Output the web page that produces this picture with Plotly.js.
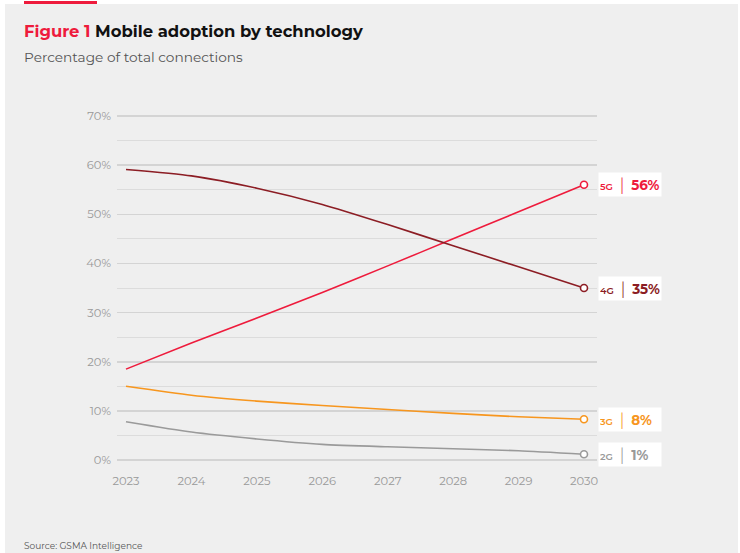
<!DOCTYPE html>
<html>
<head>
<meta charset="utf-8">
<script src="https://cdn.plot.ly/plotly-3.0.1.min.js"></script>
<style>html,body{margin:0;padding:0;background:#fff;}#chart{width:740px;height:553px;}</style>
</head>
<body>
<div id="chart"></div>
<script>
const years = [2023, 2024, 2025, 2026, 2027, 2028, 2029, 2030];
const series5G = [18.5, 23.8, 28.9, 34.1, 39.5, 45.0, 50.5, 56.0];
const series4G = [59.1, 57.8, 55.3, 52.0, 47.9, 43.6, 39.3, 35.0];
const series3G = [15.0, 13.2, 12.0, 11.1, 10.3, 9.5, 8.8, 8.3];
const series2G = [7.8, 5.7, 4.3, 3.2, 2.7, 2.3, 1.9, 1.2];
const seriesNames = ['5G', '4G', '3G', '2G'];
const endLabels = ['56%', '35%', '8%', '1%'];
const colors = ['#ee1b3c', '#8c1d24', '#f7961e', '#9a9a9a'];
const yTicks = [0, 10, 20, 30, 40, 50, 60, 70];
const yTickText = ['0%', '10%', '20%', '30%', '40%', '50%', '60%', '70%'];

const allSeries = [series5G, series4G, series3G, series2G];
const FONT = 'Montserrat, "Open Sans", Lato, sans-serif';

// plot area in pixels
const L = 117, R = 597, T = 111, B = 465, W = 740, H = 553;
const px = x => (x - L) / (R - L);
const py = y => (B - y) / (B - T);

const traces = [];
allSeries.forEach((s, i) => {
  traces.push({
    x: years, y: s, type: 'scatter', mode: 'lines',
    line: {color: colors[i], width: 1.6, shape: 'spline', smoothing: 0.6},
    hoverinfo: 'skip', showlegend: false
  });
  traces.push({
    x: [years[years.length - 1]], y: [s[s.length - 1]], type: 'scatter', mode: 'markers',
    marker: {symbol: 'circle', size: 7, color: '#ffffff', line: {color: colors[i], width: 1.6}},
    hoverinfo: 'skip', showlegend: false
  });
});

const annotations = [];
allSeries.forEach((s, i) => {
  annotations.push({
    x: years[years.length - 1], y: s[s.length - 1], xref: 'x', yref: 'y',
    xanchor: 'left', yanchor: 'middle', xshift: 14, showarrow: false,
    bgcolor: '#ffffff', width: 60, height: 21, align: 'left',
    text: '<span style="font-size:9.5px;font-weight:600">' + seriesNames[i] + '</span> <span style="font-size:15px">│</span> <b>' + endLabels[i] + '</b>',
    font: {family: FONT, size: 13.5, color: colors[i]}
  });
});

annotations.push({
  xref: 'paper', yref: 'paper', x: px(22), y: py(31), xanchor: 'left', yanchor: 'middle',
  showarrow: false, align: 'left',
  text: '<b><span style="color:#ee1b3c">Figure 1</span> Mobile adoption by technology</b>',
  font: {family: FONT, size: 16.4, color: '#111111'}
});
annotations.push({
  xref: 'paper', yref: 'paper', x: px(22), y: py(57), xanchor: 'left', yanchor: 'middle',
  showarrow: false, align: 'left',
  text: 'Percentage of total connections',
  font: {family: FONT, size: 13.7, color: '#555555'}
});
annotations.push({
  xref: 'paper', yref: 'paper', x: px(22), y: py(545), xanchor: 'left', yanchor: 'middle',
  showarrow: false, align: 'left',
  text: 'Source: GSMA Intelligence',
  font: {family: FONT, size: 9, color: '#555555'}
});

const shapes = [
  {type: 'rect', xref: 'paper', yref: 'paper', x0: px(5), x1: px(738), y0: py(553), y1: py(4),
   fillcolor: '#efefef', line: {width: 0}, layer: 'below'},
  {type: 'rect', xref: 'paper', yref: 'paper', x0: px(24), x1: px(97), y0: py(4), y1: py(1),
   fillcolor: '#ee1b3c', line: {width: 0}, layer: 'below'}
];

const layout = {
  width: W, height: H,
  margin: {l: L, r: W - R, t: T, b: H - B, pad: 0},
  paper_bgcolor: '#ffffff', plot_bgcolor: 'rgba(0,0,0,0)',
  font: {family: FONT, color: '#999999', size: 11},
  xaxis: {
    range: [2023 - 9 / 65.43, 2030 + 13 / 65.43], tickvals: years, ticktext: years.map(String),
    showgrid: false, zeroline: false, showline: false, ticks: '',
    tickfont: {family: FONT, size: 11.5, color: '#999999'}, ticklabelstandoff: 7, fixedrange: true
  },
  yaxis: {
    range: [-1, 71], tickvals: yTicks, ticktext: yTickText,
    showgrid: true, gridcolor: '#d4d4d4', gridwidth: 1.5, zeroline: false, showline: false, ticks: '',
    minor: {dtick: 5, tick0: 0, showgrid: true, gridcolor: '#dcdcdc', gridwidth: 1},
    tickfont: {family: FONT, size: 11.5, color: '#999999'}, ticklabelstandoff: 5, fixedrange: true
  },
  annotations: annotations,
  shapes: shapes
};

Plotly.newPlot('chart', traces, layout, {displayModeBar: false, staticPlot: true});
</script>
</body>
</html>
